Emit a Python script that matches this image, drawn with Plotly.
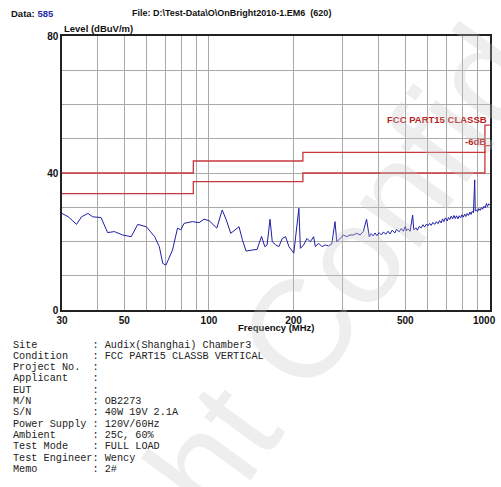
import math
import plotly.graph_objects as go

# Measured radiated emission, vertical polarisation
FREQ_MHZ = [
    30, 31.6, 33.8, 35.2, 37.1, 38.6, 41.3, 43.6, 46.1, 49.3, 52.9, 55.8, 59.9,
    64.1, 66.6, 68.5, 70.3, 74.2, 77.3, 79.4, 81.6, 87.3, 92.2, 96.1, 100.1,
    106.7, 111.5, 115.3, 119.6, 128.0, 131.6, 135.6, 142.4, 148.4, 153.9, 158.1,
    161.1, 165.0, 168.1, 172.8, 177.5, 182.4, 187.5, 192.6, 200.5, 209.0, 211.6,
    217.4, 223.3, 229.6, 235.9, 239.2, 245.7, 252.4, 259.5, 266.5, 273.8, 281.0,
    285.2, 293.2, 301.1, 309.3, 317.9, 326.6, 335.5, 344.9, 354.3, 364.0, 372.1,
    378, 384, 390, 396, 403, 411, 418, 426, 434, 441, 449, 459, 466, 475, 484,
    492, 500, 505, 512, 520, 531, 536, 545, 552, 560, 570, 578, 586, 595, 602,
    610, 618, 627, 636, 645, 654, 662, 671, 678, 686, 694, 705, 712, 720, 728,
    737, 745, 753, 761, 770, 778, 787, 795, 804, 813, 821, 830, 839, 849, 857,
    865, 874, 883, 887, 896, 904, 913, 923, 933, 942, 952, 962, 972, 981, 990,
    1000,
]
LEVEL_DBUV = [
    28.2, 27.2, 25.0, 27.2, 28.2, 27.2, 27.0, 22.6, 22.9, 21.9, 21.4, 25.0, 24.3,
    21.4, 18.5, 13.6, 13.1, 17.5, 23.9, 23.4, 25.3, 25.8, 25.5, 26.5, 26.1,
    23.9, 29.2, 26.3, 22.4, 24.3, 20.5, 17.2, 17.5, 17.7, 21.5, 18.5, 19.0,
    26.5, 19.9, 19.0, 18.5, 20.9, 21.4, 18.5, 16.6, 29.7, 18.0,
    19.0, 20.9, 19.9, 21.4, 18.5, 19.5, 18.5, 19.0, 18.7, 19.3, 25.8,
    19.9, 20.9, 21.9, 21.4, 21.9, 21.9, 22.4, 21.9, 22.9, 26.5, 21.4,
    22.3, 21.6, 22.5, 21.7, 22.6, 21.9, 22.8, 22.1, 23.0, 22.2, 23.3, 22.5, 23.6, 22.8, 23.8,
    23.0, 24.4, 23.2, 23.6, 23.0, 27.7, 23.4, 24.0, 23.3, 24.4, 24.0, 24.9, 24.2, 25.1, 24.6,
    25.3, 24.7, 25.6, 25.0, 25.8, 25.2, 26.1, 25.4, 26.6, 25.8, 26.9, 26.0, 27.0, 26.4, 27.4,
    26.6, 27.6, 26.7, 27.5, 26.6, 27.5, 26.9, 27.8, 27.1, 28.0, 27.3, 28.2, 27.6, 28.6, 27.9,
    28.8, 28.4, 38.0, 28.9, 29.2, 28.7, 29.6, 29.1, 29.9, 29.4, 30.3, 29.8, 31.1, 30.2, 31.0,
    30.7,
]

# FCC Part 15 Class B limit and the -6 dB margin line
LIMIT_FREQ = [30, 88, 88, 216, 216, 960, 960, 1000]
LIMIT_LEVEL = [40, 40, 43.5, 43.5, 46, 46, 54, 54]
MARGIN_DB = 6

X_GRID = [30, 40, 50, 60, 70, 80, 90, 100, 200, 300, 400, 500, 600, 700, 800, 900, 1000]
X_LABELED = [30, 50, 100, 200, 500, 1000]
Y_GRID = [0, 10, 20, 30, 40, 50, 60, 70, 80]
Y_LABELED = [0, 40, 80]

INFO_LINES = [
    ("Site", "Audix(Shanghai) Chamber3"),
    ("Condition", "FCC PART15 CLASSB VERTICAL"),
    ("Project No.", ""),
    ("Applicant", ""),
    ("EUT", ""),
    ("M/N", "OB2273"),
    ("S/N", "40W 19V 2.1A"),
    ("Power Supply", "120V/60Hz"),
    ("Ambient", "25C, 60%"),
    ("Test Mode", "FULL LOAD"),
    ("Test Engineer", "Wency"),
    ("Memo", "2#"),
]

W, H = 501, 487
L, R, T, B = 62, 492, 36, 310   # plot area in pixels
RED = "#c8373c"
LABEL_RED = "#b81c1c"


def px(x):
    return (x - L) / (R - L)


def py(y):
    return (B - y) / (B - T)


fig = go.Figure()
fig.add_trace(go.Scatter(x=LIMIT_FREQ, y=LIMIT_LEVEL, mode="lines",
                         line=dict(color=RED, width=1.3), hoverinfo="skip"))
fig.add_trace(go.Scatter(x=LIMIT_FREQ, y=[v - MARGIN_DB for v in LIMIT_LEVEL], mode="lines",
                         line=dict(color=RED, width=1.3), hoverinfo="skip"))
fig.add_trace(go.Scatter(x=FREQ_MHZ, y=LEVEL_DBUV, mode="lines",
                         line=dict(color="#1f1fa6", width=1)))

tick_font = dict(family="Arial", size=10, color="#111111")
# the last label sits against the right edge, so it is placed separately below
fig.update_xaxes(
    type="log", range=[1.47712, 3.0004], tickvals=X_GRID,
    ticktext=[f"<b>{v}</b>" if v in X_LABELED and v != X_GRID[-1] else "" for v in X_GRID],
    showgrid=True, gridcolor="#a9a9a9", gridwidth=1,
    showline=True, linecolor="#222222", linewidth=1.5, mirror=True,
    ticks="", tickfont=tick_font, zeroline=False, fixedrange=True,
)
fig.update_yaxes(
    range=[0, 80], tickvals=Y_GRID,
    ticktext=[f"<b>{v}</b>" if v in Y_LABELED else "" for v in Y_GRID],
    showgrid=True, gridcolor="#a9a9a9", gridwidth=1,
    showline=True, linecolor="#222222", linewidth=1.5, mirror=True,
    ticks="", tickfont=tick_font, zeroline=False, fixedrange=True,
)

ann = []


def text(x, y, s, size=9.5, color="#111111", xanchor="left", family="Arial", **kw):
    ann.append(dict(x=px(x), y=py(y), xref="paper", yref="paper", text=s,
                    showarrow=False, xanchor=xanchor, yanchor="middle",
                    font=dict(family=family, size=size, color=color), **kw))


# last x tick label, kept inside the page (log axis: annotation x is in decades)
ann.append(dict(x=math.log10(X_GRID[-1]), xref="x", y=py(320), yref="paper",
                text=f"<b>{X_GRID[-1]}</b>", showarrow=False, xanchor="right",
                xshift=8, yanchor="middle", font=tick_font))

# header
text(9, 13, "<b>Data: <span style='color:#2a2ab0'>585</span></b>", size=9.5)
text(130, 13, "<b>File: D:\\Test-Data\\O\\OnBright2010-1.EM6  (620)</b>", size=9)
text(62, 28, "<b>Level (dBuV/m)</b>", size=9.5)
text(277, 327, "<b>Frequency (MHz)</b>", size=9.5, xanchor="center")

# limit labels
text(491, 120, "<b>FCC PART15 CLASSB</b>", size=9.5, color=LABEL_RED, xanchor="right")
text(490, 141, "<b>-6dB</b>", size=9.5, color=LABEL_RED, xanchor="right")

# test information block
for i, (k, v) in enumerate(INFO_LINES):
    line = f"{k:<13}: {v}".rstrip()
    line = line.replace(" ", "\u00a0")
    text(11, 345 + i * 11.3, line, size=10.2, color="#222222",
         family="Liberation Mono, Courier New, monospace")

# watermark
ann.append(dict(x=px(300), y=py(330), xref="paper", yref="paper",
                text="Copyright Confidential", showarrow=False, textangle=-54,
                xanchor="center", yanchor="middle",
                font=dict(family="Arial", size=140, color="rgba(200,200,200,0.3)")))

fig.update_layout(
    width=W, height=H, margin=dict(l=L, r=W - R, t=T, b=H - B),
    paper_bgcolor="white", plot_bgcolor="white", showlegend=False,
    annotations=ann,
)

fig.write_html("out.html")
